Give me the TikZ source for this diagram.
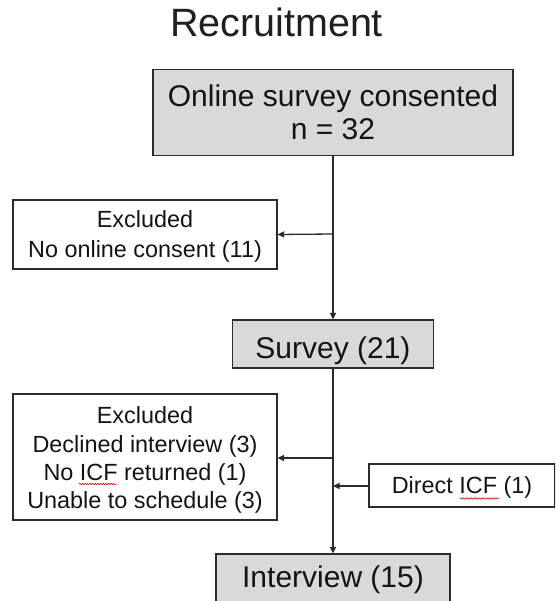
\documentclass[tikz,border=0pt]{standalone}
\usepackage{fontspec}
\setmainfont{Liberation Sans}
\usetikzlibrary{arrows.meta,decorations.pathmorphing}

\definecolor{boxgrey}{HTML}{D9D9D9}
\definecolor{edge}{HTML}{2B2B2B}

\tikzset{
  stage/.style={draw=edge, line width=1.2pt, fill=boxgrey, inner sep=0pt},
  note/.style={draw=edge, line width=1.2pt, fill=white, inner sep=0pt},
  bigtxt/.style={font=\fontsize{30}{34}\selectfont, text=black!92, inner sep=0pt, anchor=base},
  smalltxt/.style={font=\fontsize{23.4}{28}\selectfont, text=black!92, inner sep=0pt, anchor=base},
  flow/.style={draw=edge, line width=1.3pt, -{Triangle[length=6.5pt,width=6pt]}},
  spell/.style={draw=red!80!black, line width=0.5pt,
    decorate, decoration={snake, amplitude=0.8pt, segment length=2.6pt}}
}

\begin{document}
\begin{tikzpicture}[x=1pt, y=-1pt]
  \clip (0,0) rectangle (555,601);
  \fill[white] (0,0) rectangle (555,601);

  % heading
  \node[font=\fontsize{39.5}{44}\selectfont, text=black!88, inner sep=0pt, anchor=base]
    (title) at (276.5,37) {Recruitment};

  % main stages, all centred on the spine x = 333
  \node[stage, minimum width=360pt, minimum height=86pt] (consent) at (333,112.5) {};
  \node[bigtxt] (consentA) at (333,107) {Online survey consented};
  \node[bigtxt] (consentB) at (333,140) {n = 32};

  \node[stage, minimum width=201pt, minimum height=48pt] (survey) at (333,344) {};
  \node[bigtxt] (surveyT) at (333,358) {Survey (21)};

  \node[stage, minimum width=234pt, minimum height=66pt] (interview) at (333,587) {};
  \node[bigtxt] (interviewT) at (333,587) {Interview (15)};

  % side boxes
  \node[note, minimum width=264pt, minimum height=69pt] (excl1) at (145,234.5) {};
  \node[smalltxt] (excl1A) at (145,228) {Excluded};
  \node[smalltxt] (excl1B) at (145,257) {No online consent (11)};

  \node[note, minimum width=264pt, minimum height=126pt] (excl2) at (145,457) {};
  \node[smalltxt] (excl2A) at (145,423) {Excluded};
  \node[smalltxt] (excl2B) at (145,452) {Declined interview (3)};
  \node[smalltxt] (excl2C) at (145,480) {No ICF returned (1)};
  \node[smalltxt] (excl2D) at (145,508) {Unable to schedule (3)};

  \node[note, minimum width=186pt, minimum height=43pt] (direct) at (462,485.5) {};
  \node[smalltxt] (directT) at (462,493) {Direct ICF (1)};

  % spell-check underlines
  \draw[spell] (79,484) -- (117,484);
  \draw[spell] (460,498.5) -- (499,498.5);

  % junctions on the spine
  \coordinate (j1) at (333,234);
  \coordinate (j2) at (333,458);
  \coordinate (j3) at (333,486);

  % connectors
  \draw[flow] (consent.south) -- (survey.north);
  \draw[flow] (j1) -- (excl1.east);
  \draw[flow] (survey.south) -- (interview.north);
  \draw[flow] (j2) -- (excl2.east |- j2);
  \draw[flow] (direct.west |- j3) -- (j3);
\end{tikzpicture}
\end{document}
